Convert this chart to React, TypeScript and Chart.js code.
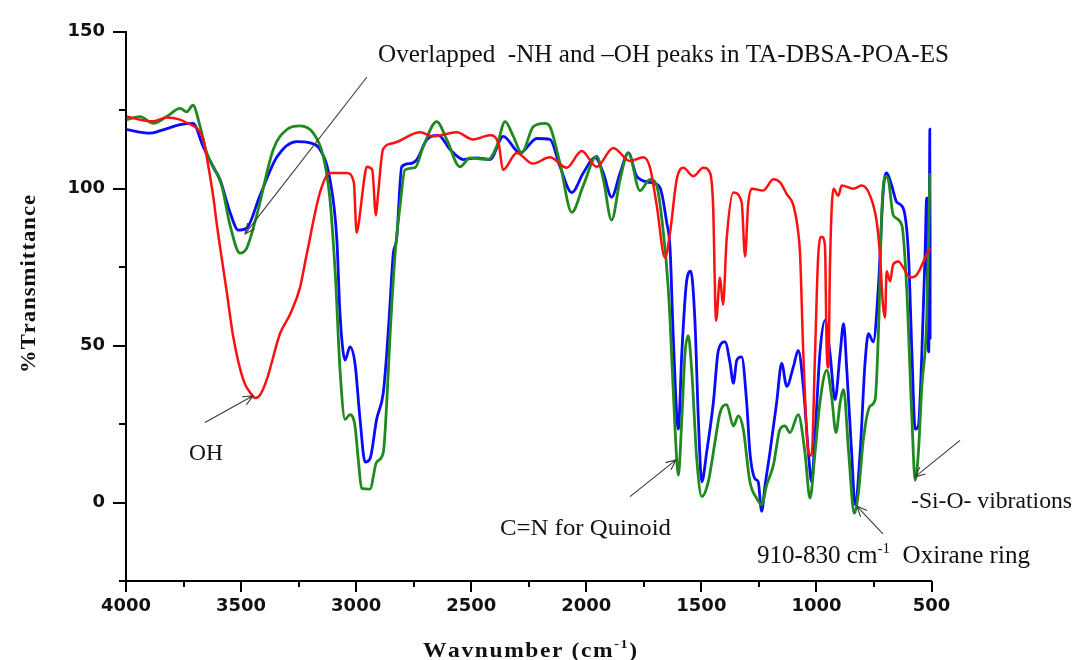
import React, { useEffect, useRef } from 'react';
import { Chart, registerables } from 'chart.js';

Chart.register(...registerables);

// [wavenumber (cm-1), % transmittance]
const redSpectrum: [number, number][] = [
  [3997, 123], [3939, 122], [3881, 121.5], [3823, 122.7], [3765, 122], [3736, 121], [3693, 119.3],
  [3665, 116], [3649, 110], [3620, 97], [3606, 89], [3562, 67], [3534, 52.8], [3490, 39],
  [3455, 34.5], [3439, 33.3], [3420, 34], [3389, 39], [3331, 53.8], [3287, 60], [3244, 68.5], [3215, 79],
  [3157, 98.8], [3114, 105], [3041, 105], [3010, 102], [2998, 86], [2991, 88], [2961, 105], [2954, 107],
  [2930, 106], [2914, 91.5], [2905, 98], [2883, 112.6], [2840, 114.5], [2722, 118], [2666, 116.7],
  [2563, 118], [2492, 115.7], [2418, 117], [2380, 114], [2362, 106], [2302, 111.4], [2232, 108],
  [2158, 110], [2085, 106.7], [2020, 112], [1955, 107], [1883, 113], [1810, 108.8], [1752, 110],
  [1723, 106.7], [1694, 94.7], [1658, 78], [1636, 86], [1607, 103], [1578, 106.7], [1535, 104],
  [1492, 106.7], [1462, 105], [1449, 94.7], [1436, 58], [1419, 71.7], [1406, 63], [1390, 84],
  [1361, 98.8], [1325, 95.7], [1310, 78.4], [1297, 94.7], [1281, 100], [1231, 99.4], [1187, 103],
  [1158, 102], [1129, 98.3], [1100, 94.7], [1079, 86], [1071, 79], [1057, 47.5], [1035, 16], [1021, 15],
  [1006, 47.5], [992, 79], [977, 84.7], [963, 82], [955, 47.5], [948, 43], [941, 76], [926, 100],
  [905, 97.8], [890, 101], [839, 100], [803, 101], [767, 97.8], [738, 89.4], [724, 79], [711, 63],
  [702, 59], [695, 73.7], [680, 70.5], [667, 75.8], [644, 76.8], [622, 74.8], [593, 71.7], [564, 72.6],
  [521, 79], [505, 81],
];

const blueSpectrum: [number, number][] = [
  [3997, 118.8], [3896, 117.7], [3850, 118.5], [3765, 120.4], [3709, 120.8], [3665, 113.5], [3622, 107],
  [3592, 103], [3548, 92.5], [3512, 86.8], [3476, 87.4], [3418, 97.8], [3345, 110], [3258, 115],
  [3200, 114.6], [3157, 112.5], [3114, 103], [3084, 84], [3070, 60], [3048, 45.4], [3027, 49.6],
  [3005, 44.3], [2983, 26.5], [2961, 12.9], [2940, 13.9], [2911, 26.5], [2882, 35], [2867, 47.5],
  [2853, 63], [2839, 79], [2824, 84], [2802, 107], [2766, 108], [2737, 109.2], [2693, 115.6],
  [2643, 117], [2592, 112.5], [2534, 109.3], [2476, 109.8], [2418, 109.3], [2361, 116.7], [2288, 111.4],
  [2215, 116], [2158, 115.7], [2114, 107], [2063, 98.8], [2013, 105], [1962, 110], [1926, 105],
  [1890, 97.3], [1853, 105], [1817, 111.4], [1781, 104], [1723, 102], [1680, 100.4], [1651, 89.4],
  [1636, 81], [1622, 52.8], [1600, 23.4], [1585, 47.5], [1564, 70.5], [1546, 73.7], [1528, 58],
  [1513, 26.5], [1498, 6.6], [1477, 16], [1448, 31.8], [1426, 48.5], [1397, 51.2], [1375, 44.3],
  [1361, 38], [1346, 45.4], [1325, 46.4], [1303, 31.8], [1289, 16], [1267, 7.6], [1253, 6.6],
  [1238, -2.8], [1223, 5.6], [1202, 16], [1173, 31.8], [1151, 44.3], [1129, 37], [1100, 43.3],
  [1079, 48.5], [1057, 37], [1035, 16], [1021, 6.6], [1006, 21.3], [985, 47.5], [963, 58], [941, 47.5],
  [919, 32.8], [897, 47.5], [882, 57], [868, 42.2], [847, 16], [832, -0.7], [810, 16], [789, 44.3],
  [774, 53.8], [753, 51.2], [731, 68.5], [709, 100], [695, 105], [673, 101], [651, 95.7], [622, 93.6],
  [600, 79], [585, 47.5], [571, 23.4], [557, 24.4], [542, 47.5], [528, 79], [521, 97], [516, 55],
  [512, 48], [507, 119], [502, 52],
];

const greenSpectrum: [number, number][] = [
  [3997, 122], [3939, 123], [3881, 120.8], [3823, 123], [3765, 125.6], [3736, 124.5], [3709, 126.6],
  [3678, 119.8], [3649, 111.4], [3613, 106], [3584, 101], [3548, 88.4], [3505, 79.5], [3476, 81],
  [3432, 91.5], [3360, 112.5], [3302, 118.8], [3244, 120], [3186, 117.7], [3143, 110.4], [3114, 96.8],
  [3090, 72], [3070, 42.2], [3048, 26.5], [3027, 28], [3005, 24.4], [2991, 13.9], [2976, 4.5],
  [2940, 4.3], [2911, 12.9], [2882, 16], [2867, 31.8], [2853, 52.8], [2831, 79], [2809, 94.7],
  [2788, 106], [2744, 106.7], [2708, 113.5], [2650, 121.4], [2606, 115.6], [2549, 107], [2505, 109.8],
  [2426, 109.3], [2389, 113.5], [2353, 121.4], [2317, 116.7], [2281, 111.4], [2230, 119.8],
  [2179, 120.8], [2158, 119.8], [2114, 108], [2063, 92.5], [2013, 101], [1955, 110.4], [1926, 103],
  [1890, 90], [1853, 103], [1817, 111.4], [1767, 99.4], [1723, 103], [1694, 101], [1665, 86],
  [1644, 68.5], [1636, 58], [1615, 24.4], [1600, 8.7], [1585, 26.5], [1571, 47.5], [1557, 53.2],
  [1542, 42.2], [1520, 13.9], [1498, 1.9], [1470, 6.6], [1441, 19.2], [1419, 28.6], [1390, 31.2],
  [1361, 24.4], [1339, 27.6], [1318, 23.4], [1289, 6.6], [1260, 1.4], [1238, -0.7], [1216, 5.6],
  [1187, 11.9], [1158, 23.4], [1137, 24.4], [1115, 22.3], [1079, 28], [1050, 16], [1028, 1.4],
  [1006, 16], [985, 31.8], [955, 42.2], [934, 33.8], [915, 22.3], [897, 31.8], [882, 36], [860, 16],
  [836, -3.4], [817, 3.5], [796, 20.2], [767, 30.7], [745, 32.8], [728, 60], [718, 89], [702, 104],
  [688, 103], [666, 91.5], [629, 88.4], [608, 68.5], [585, 26.5], [571, 7.1], [557, 16], [542, 37],
  [521, 58], [507, 105],
];

const xTickLabels = [4000, 3500, 3000, 2500, 2000, 1500, 1000, 500];
const yTickLabels = [150, 100, 50, 0];

type Part = { t: string; sup?: boolean };

const SERIF = '"Liberation Serif", "Times New Roman", serif';

function fontStr(size: number, weight: string) {
  return `${weight} ${size}px ${SERIF}`;
}

// draws parts at (0,0) baseline with letter spacing ls, horizontally scaled by sx
function drawParts(ctx: CanvasRenderingContext2D, parts: Part[], size: number, weight: string, ls: number, sx: number) {
  ctx.save();
  ctx.scale(sx, 1);
  let x = 0;
  for (const p of parts) {
    const s = p.sup ? size * 0.6 : size;
    ctx.font = fontStr(s, weight);
    if (ls === 0) {
      ctx.fillText(p.t, x, p.sup ? -size * 0.42 : 0);
      x += ctx.measureText(p.t).width;
    } else {
      for (const ch of p.t) {
        ctx.fillText(ch, x, p.sup ? -size * 0.42 : 0);
        x += ctx.measureText(ch).width + ls;
      }
    }
  }
  ctx.restore();
}

function measureParts(ctx: CanvasRenderingContext2D, parts: Part[], size: number, weight: string, ls: number) {
  let w = 0;
  let n = 0;
  for (const p of parts) {
    ctx.font = fontStr(p.sup ? size * 0.6 : size, weight);
    if (ls === 0) {
      w += ctx.measureText(p.t).width;
    } else {
      for (const ch of p.t) {
        w += ctx.measureText(ch).width;
        n++;
      }
    }
  }
  return w + Math.max(0, n - 1) * ls;
}

function fitText(
  ctx: CanvasRenderingContext2D,
  parts: Part[],
  left: number,
  baseline: number,
  targetW: number,
  size: number,
  weight: string,
  ls = 0,
  rotate = false
) {
  ctx.save();
  ctx.fillStyle = '#111';
  ctx.textBaseline = 'alphabetic';
  ctx.textAlign = 'left';
  ctx.translate(left, baseline);
  if (rotate) ctx.rotate(-Math.PI / 2);
  const w0 = measureParts(ctx, parts, size, weight, ls);
  drawParts(ctx, parts, size, weight, ls, targetW / w0);
  ctx.restore();
}

function drawArrow(ctx: CanvasRenderingContext2D, x1: number, y1: number, x2: number, y2: number) {
  ctx.save();
  ctx.strokeStyle = '#3a3a3a';
  ctx.lineWidth = 1.1;
  ctx.beginPath();
  ctx.moveTo(x1, y1);
  ctx.lineTo(x2, y2);
  const a = Math.atan2(y2 - y1, x2 - x1);
  const L = 11;
  const spread = 0.42;
  ctx.moveTo(x2 - L * Math.cos(a - spread), y2 - L * Math.sin(a - spread));
  ctx.lineTo(x2, y2);
  ctx.lineTo(x2 - L * Math.cos(a + spread), y2 - L * Math.sin(a + spread));
  ctx.stroke();
  ctx.restore();
}

const decorPlugin = {
  id: 'ftirDecor',
  afterDraw(chart: any) {
    const ctx: CanvasRenderingContext2D = chart.ctx;
    const xs = chart.scales.x;
    const ys = chart.scales.y;
    const area = chart.chartArea;

    // major / minor tick marks
    ctx.save();
    ctx.strokeStyle = '#000';
    ctx.lineWidth = 2;
    ctx.beginPath();
    for (let v = 500; v <= 4000; v += 250) {
      const px = Math.round(xs.getPixelForValue(v));
      const major = v % 500 === 0;
      ctx.moveTo(px, area.bottom);
      ctx.lineTo(px, area.bottom + (major ? 11 : 6));
    }
    for (let v = -25; v <= 150; v += 25) {
      const py = Math.round(ys.getPixelForValue(v));
      const major = v % 50 === 0;
      ctx.moveTo(area.left - (major ? 13 : 7), py);
      ctx.lineTo(area.left, py);
    }
    ctx.stroke();
    ctx.restore();

    const P = (wn: number, t: number): [number, number] => [xs.getPixelForValue(wn), ys.getPixelForValue(t)];

    // arrows (tail -> tip), anchored in data coordinates
    const arrows: [[number, number], [number, number]][] = [
      [[2953, 135.6], [3483, 85.6]],
      [[3657, 25.5], [3448, 34.0]],
      [[1810, 1.9], [1610, 13.6]],
      [[711, -10], [824, -1.2]],
      [[376, 19.8], [572, 8.2]],
    ];
    for (const [tail, tip] of arrows) {
      const [x1, y1] = P(tail[0], tail[1]);
      const [x2, y2] = P(tip[0], tip[1]);
      drawArrow(ctx, x1, y1, x2, y2);
    }

    // annotation texts
    fitText(ctx, [{ t: 'Overlapped  -NH and –OH peaks in TA-DBSA-POA-ES' }], 378, 62, 571, 25, 'normal');
    fitText(ctx, [{ t: 'OH' }], 189, 460, 34, 23, 'normal');
    fitText(ctx, [{ t: 'C=N for Quinoid' }], 500, 535, 171, 24, 'normal');
    fitText(ctx, [{ t: '910-830 cm' }, { t: '-1', sup: true }, { t: '  Oxirane ring' }], 757, 563, 273, 25, 'normal');
    fitText(ctx, [{ t: '-Si-O- vibrations' }], 911, 508, 161, 24, 'normal');

    // axis titles
    fitText(ctx, [{ t: 'Wavnumber (cm' }, { t: '-1', sup: true }, { t: ')' }], 423, 657, 214, 22, 'bold', 1.5);
    fitText(ctx, [{ t: '%Transmittance' }], 35, 373, 178, 22, 'bold', 1.0, true);
  },
};

export default function App() {
  const canvasRef = useRef<HTMLCanvasElement | null>(null);

  useEffect(() => {
    const canvas = canvasRef.current;
    if (!canvas) return;
    const toPts = (arr: [number, number][]) => arr.map(([x, y]) => ({ x, y }));
    const tickFont = { family: '"DejaVu Sans", Arial, sans-serif', size: 18, weight: 'bold' as const };

    const chart = new Chart(canvas, {
      type: 'line',
      data: {
        datasets: [
          {
            label: 'Red',
            data: toPts(redSpectrum),
            borderColor: '#ff1010',
            borderWidth: 2.5,
            pointRadius: 0,
            fill: false,
            cubicInterpolationMode: 'monotone',
          },
          {
            label: 'Green',
            data: toPts(greenSpectrum),
            borderColor: '#1f8a1f',
            borderWidth: 2.8,
            pointRadius: 0,
            fill: false,
            cubicInterpolationMode: 'monotone',
          },
          {
            label: 'Blue',
            data: toPts(blueSpectrum),
            borderColor: '#0a0aff',
            borderWidth: 2.8,
            pointRadius: 0,
            fill: false,
            cubicInterpolationMode: 'monotone',
          },
        ],
      },
      options: {
        responsive: false,
        animation: false,
        devicePixelRatio: 1,
        layout: { padding: { top: 24, right: 143.5, left: 0, bottom: 0 } },
        plugins: {
          legend: { display: false },
          tooltip: { enabled: false },
        },
        scales: {
          x: {
            type: 'linear',
            reverse: true,
            min: 500,
            max: 4000,
            grid: { display: false, drawTicks: false },
            border: { display: true, color: '#000', width: 2 },
            ticks: {
              color: '#111',
              font: tickFont,
              padding: 15,
              maxRotation: 0,
              autoSkip: false,
              callback: (v: any) => String(v),
            },
            afterBuildTicks: (scale: any) => {
              scale.ticks = xTickLabels.map((v) => ({ value: v }));
            },
            afterFit: (scale: any) => {
              scale.height = 79;
            },
          },
          y: {
            type: 'linear',
            min: -25,
            max: 150,
            grid: { display: false, drawTicks: false },
            border: { display: true, color: '#000', width: 2 },
            ticks: {
              color: '#111',
              font: tickFont,
              padding: 21,
              callback: (v: any) => String(v),
            },
            afterBuildTicks: (scale: any) => {
              scale.ticks = yTickLabels.map((v) => ({ value: v }));
            },
            afterFit: (scale: any) => {
              scale.width = 126;
            },
          },
        },
      },
      plugins: [decorPlugin],
    });

    return () => chart.destroy();
  }, []);

  return (
    <div style={{ position: 'absolute', left: 0, top: 0, width: 1075, height: 660, background: '#fff' }}>
      <canvas ref={canvasRef} width={1075} height={660} style={{ display: 'block' }} />
    </div>
  );
}
